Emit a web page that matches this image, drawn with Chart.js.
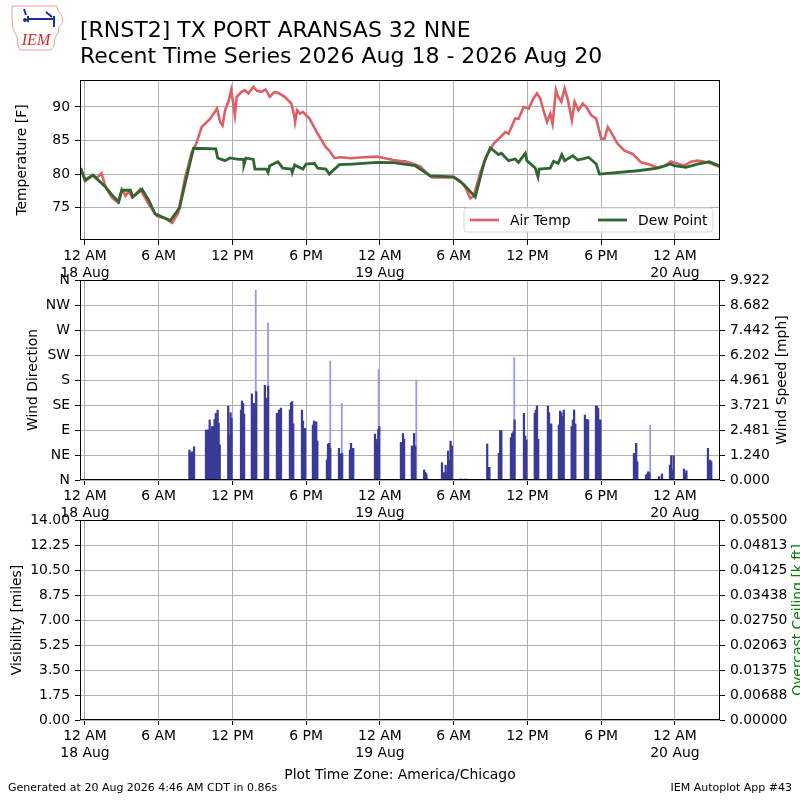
<!DOCTYPE html>
<html><head><meta charset="utf-8">
<script src="https://cdn.jsdelivr.net/npm/chart.js@4.4.1/dist/chart.umd.min.js"></script>
<style>
html,body{margin:0;padding:0;background:#fff;}
#wrap{position:relative;width:800px;height:800px;overflow:hidden;font-family:'DejaVu Sans',sans-serif;color:#000;background:#fff;}
canvas{position:absolute;left:0;top:0;}
.t{position:absolute;white-space:nowrap;}
</style></head><body>
<div id="wrap">
<canvas id="c1" width="800" height="800"></canvas>
<canvas id="c2" width="800" height="800"></canvas>
<canvas id="c3" width="800" height="800"></canvas>
<svg style="position:absolute;left:8px;top:3px" width="58" height="50" viewBox="0 0 58 50">
 <path d="M4 3 L49 3 L50 8 L54 13 L55 19 L51 24 L50 30 L47 35 L46 43 L43 47 L12 47 L10 42 L9 34 L5 26 L4 16 Z" fill="none" stroke="#eaa0a0" stroke-width="1"/>
 <g stroke="#1e2f9a" stroke-width="2" fill="none">
  <path d="M20 16 L46 16"/><path d="M20 13 L20 19"/><path d="M46 13 L46 24"/><path d="M38 9 L44 14"/><path d="M16 6 L18 12"/>
 </g>
 <circle cx="17" cy="17" r="2" fill="#1e2f9a"/>
 <text x="28" y="42" font-family="'Liberation Serif',serif" font-style="italic" font-size="16" fill="#d42828" text-anchor="middle">IEM</text>
</svg>
<div class="t" style="left:80px;top:17px;font-size:22px;line-height:26px;">[RNST2] TX PORT ARANSAS 32 NNE<br>Recent Time Series 2026 Aug 18 - 2026 Aug 20</div>
<div class="t" style="left:0;width:800px;text-align:center;top:766px;font-size:13.9px;line-height:17px;">Plot Time Zone: America/Chicago</div>
<div class="t" style="left:8px;top:781px;font-size:11px;line-height:13px;">Generated at 20 Aug 2026 4:46 AM CDT in 0.86s</div>
<div class="t" style="right:8px;top:781px;font-size:11px;line-height:13px;">IEM Autoplot App #43</div>
</div>
<script>
// ---------------- data ----------------
const xTickHours = [0, 6, 12, 18, 24, 30, 36, 42, 48];
const xTickLabels = [['12 AM', '18 Aug'], '6 AM', '12 PM', '6 PM', ['12 AM', '19 Aug'], '6 AM', '12 PM', '6 PM', ['12 AM', '20 Aug']];

const tempTicks = [75, 80, 85, 90];
const tempTickLabels = ['75', '80', '85', '90'];

const dirTicks = [0, 45, 90, 135, 180, 225, 270, 315, 360];
const dirTickLabels = ['N', 'NE', 'E', 'SE', 'S', 'SW', 'W', 'NW', 'N'];

const speedTicks = [0, 1.2403, 2.4806, 3.7209, 4.9612, 6.2015, 7.4418, 8.6821, 9.9224];
const speedTickLabels = ['0.000', '1.240', '2.481', '3.721', '4.961', '6.202', '7.442', '8.682', '9.922'];

const visTicks = [0, 1.75, 3.5, 5.25, 7, 8.75, 10.5, 12.25, 14];
const visTickLabels = ['0.00', '1.75', '3.50', '5.25', '7.00', '8.75', '10.50', '12.25', '14.00'];

const ceilTicks = [0, 0.006875, 0.01375, 0.020625, 0.0275, 0.034375, 0.04125, 0.048125, 0.055];
const ceilTickLabels = ['0.00000', '0.00688', '0.01375', '0.02063', '0.02750', '0.03438', '0.04125', '0.04813', '0.05500'];

// hours since 12 AM 18 Aug
const airHours = [-0.35, 0.05, 0.6, 1.0, 1.35, 1.7, 2.2, 2.7, 3.0, 3.3, 3.57, 3.85, 4.5, 5.2, 5.85, 6.55, 7.1, 7.6, 8.15, 8.7,
  9.05, 9.5, 10.2, 10.75, 11.0, 11.2, 11.4, 11.7, 11.9, 12.03, 12.2, 12.35, 12.75, 13.0, 13.3, 13.7, 14.0, 14.37, 14.7, 15.04,
  15.4, 15.7, 16.0, 16.25, 16.8, 17.05, 17.1, 17.27, 17.5, 17.73, 18.27, 18.94, 19.6, 19.88, 20.29, 20.83, 21.63, 22.7, 23.78, 24.3,
  25.1, 25.8, 26.07, 26.75, 27.3, 27.83, 28.24, 29.05, 30.0, 30.54, 30.95, 31.36, 31.63, 32.17, 32.7, 33.25, 33.66, 34.2, 34.47, 35.0,
  35.28, 35.7, 36.1, 36.5, 36.78, 37.05, 37.3, 37.6, 37.86, 38.05, 38.32, 38.5, 38.76, 39.03, 39.3, 39.62, 39.84, 40.16, 40.5, 40.78,
  41.2, 41.6, 42.0, 42.27, 42.54, 42.8, 43.35, 43.9, 44.57, 45.24, 45.8, 46.6, 47.14, 47.68, 48.2, 48.76, 49.3, 49.84, 50.4, 50.9, 51.6];
const airTemp = [80.9, 79.0, 79.75, 79.5, 80.1, 78.0, 76.5, 75.75, 77.75, 76.75, 77.5, 76.5, 77.75, 75.5, 73.75, 73.4, 72.75, 74.25, 79.5, 83.25,
  84.5, 87.0, 88.25, 89.75, 87.75, 87.25, 89.5, 90.9, 92.5, 91.0, 88.75, 91.5, 92.25, 92.5, 92.0, 93.0, 92.4, 92.25, 92.6, 91.5,
  92.2, 92.1, 91.8, 91.5, 90.5, 88.5, 87.75, 89.5, 89.0, 89.25, 88.25, 86.0, 84.0, 83.5, 82.4, 82.5, 82.35, 82.5, 82.6, 82.4,
  82.1, 81.9, 81.9, 81.5, 81.1, 80.1, 79.5, 79.5, 79.5, 79.0, 78.0, 76.4, 76.75, 80.25, 82.75, 84.5, 85.25, 86.25, 86.0, 88.25,
  88.25, 90.0, 89.75, 91.25, 92.0, 91.25, 89.5, 87.75, 89.0, 87.5, 92.5, 91.5, 90.75, 92.75, 91.0, 88.0, 90.75, 89.5, 90.5, 90.0,
  88.75, 88.25, 85.25, 85.25, 87.0, 86.25, 84.5, 83.5, 83.0, 81.75, 81.5, 81.0, 81.25, 81.9, 81.6, 81.25, 81.85, 82.0, 81.85, 81.6, 81.1];

const dewHours = [-0.35, 0.0, 0.65, 1.68, 2.2, 2.76, 3.0, 3.7, 3.9, 4.65, 5.2, 5.7, 6.95, 7.7, 8.2, 8.84, 10.65, 10.8, 11.4, 11.8,
  12.5, 12.9, 12.94, 13.1, 13.7, 13.83, 14.77, 14.9, 15.04, 15.7, 16.1, 16.8, 16.87, 17.06, 17.73, 18.0, 18.67, 18.94, 19.6, 19.88,
  20.7, 21.77, 23.78, 25.1, 25.53, 26.88, 28.1, 30.0, 30.8, 31.76, 32.52, 32.98, 33.66, 33.88, 34.47, 35.0, 35.28, 35.83, 35.96, 36.64,
  36.86, 36.96, 37.86, 38.13, 38.5, 38.8, 39.03, 39.7, 40.1, 40.5, 40.97, 41.6, 41.86, 44.97, 46.6, 47.68, 47.95, 48.9, 49.84, 50.8, 51.6];
const dewTemp = [80.9, 79.1, 79.85, 78.1, 76.9, 75.9, 77.6, 77.6, 76.6, 77.75, 76.1, 74.1, 73.1, 75.0, 79.0, 83.85, 83.75, 82.4, 82.0, 82.4,
  82.2, 82.2, 81.4, 82.4, 82.2, 80.75, 80.75, 80.25, 81.25, 81.85, 80.9, 80.75, 80.25, 81.35, 80.75, 81.5, 81.6, 80.9, 80.75, 80.0,
  81.4, 81.5, 81.75, 81.7, 81.6, 81.25, 79.75, 79.6, 78.5, 76.6, 82.0, 83.9, 82.9, 83.1, 82.0, 82.25, 81.75, 83.1, 82.0, 80.9,
  79.6, 80.75, 80.9, 81.9, 81.6, 82.9, 82.0, 82.75, 82.1, 82.25, 82.5, 81.5, 80.0, 80.5, 80.9, 81.5, 81.25, 81.0, 81.5, 81.85, 81.25];

const windHours = [8.50, 8.60, 8.70, 8.78, 8.88,
  9.85, 9.95, 10.05, 10.15, 10.25, 10.35, 10.45, 10.55, 10.65, 10.72, 10.80, 10.88, 10.97,
  11.66, 11.75, 11.85, 11.93, 12.70, 12.78, 12.87, 12.95, 13.58, 13.67, 13.76, 13.85, 13.94,
  14.64, 14.73, 14.82, 14.91, 15.62, 15.70, 15.79, 15.87, 15.95, 16.68, 16.77, 16.86, 16.95,
  17.66, 17.74, 17.83, 17.91, 18.55, 18.64, 18.73, 18.82, 18.91, 19.69, 19.78, 19.87, 19.96,
  20.67, 20.76, 20.84, 20.93, 21.56, 21.65, 21.74, 21.83, 23.60, 23.69, 23.78, 23.87, 23.95,
  25.71, 25.79, 25.88, 25.97, 26.60, 26.69, 26.78, 26.87, 27.60, 27.69, 27.78, 27.90,
  29.05, 29.15, 29.25, 29.35, 29.45, 29.55, 29.65, 29.75, 29.85, 30.60, 30.95,
  32.73, 32.82, 32.91, 33.68, 33.78, 33.88, 34.66, 34.76, 34.86, 34.96, 35.72, 35.82, 35.92,
  36.60, 36.69, 36.78, 36.88, 37.67, 37.76, 37.85, 37.94, 38.56, 38.66, 38.76, 38.86, 38.96,
  39.60, 39.70, 39.80, 39.90, 40.68, 40.76, 40.85, 40.94, 41.58, 41.67, 41.76, 41.85, 41.94,
  44.67, 44.76, 44.85, 44.94, 45.65, 45.74, 45.83, 45.92, 46.72, 46.82, 46.95,
  47.60, 47.70, 47.80, 47.90, 48.74, 48.84, 48.94, 50.69, 50.78, 50.87, 50.96];
const windSpeed = [1.49, 1.36, 1.40, 1.00, 1.65,
  2.48, 2.48, 2.48, 2.98, 2.48, 2.65, 2.65, 3.01, 3.31, 2.89, 3.47, 2.81, 1.74,
  3.67, 2.23, 3.34, 3.06, 3.47, 3.92, 3.80, 3.27, 4.27, 3.14, 3.80, 3.64, 4.38,
  4.70, 4.07, 3.47, 4.66, 3.31, 2.73, 3.47, 3.47, 3.57, 3.47, 3.84, 3.89, 2.79,
  3.47, 2.93, 2.15, 2.56, 2.73, 2.93, 2.65, 2.89, 1.93, 1.00, 1.79, 1.82, 1.57,
  1.57, 1.24, 1.29, 1.32, 1.49, 1.82, 1.57, 1.57, 2.28, 1.79, 2.02, 2.51, 2.65,
  1.87, 1.87, 2.31, 2.02, 1.69, 1.62, 2.31, 1.69, 0.50, 0.38, 0.30, 0.05,
  0.86, 0.36, 0.36, 0.74, 0.36, 1.44, 0.99, 1.93, 1.70, 0.05, 0.05,
  1.79, 0.63, 0.63, 1.32, 2.45, 2.45, 2.11, 2.31, 2.40, 2.98, 3.31, 2.18, 1.98,
  3.31, 3.47, 3.67, 2.02, 3.67, 3.34, 2.78, 2.78, 2.73, 3.42, 3.34, 3.14, 3.47,
  2.65, 2.98, 3.47, 2.78, 3.22, 1.79, 3.01, 2.98, 3.67, 3.67, 3.55, 2.98, 2.98,
  1.32, 1.16, 1.82, 0.91, 0.25, 0.30, 0.41, 0.36, 0.17, 0.03, 0.30,
  0.74, 1.21, 0.50, 1.21, 0.55, 0.33, 0.46, 1.57, 0.69, 0.99, 0.91];

const gustHours = [13.90, 14.90, 19.96, 20.90, 23.90, 26.96, 34.93, 45.99];
const gustSpeed = [9.42, 7.80, 5.90, 3.80, 5.50, 4.96, 6.08, 2.73];

// ---------------- drawing ----------------
Chart.defaults.font.family = "'DejaVu Sans', sans-serif";
Chart.defaults.font.size = 13.9;
Chart.defaults.color = '#000';
const FONT = { family: "'DejaVu Sans', sans-serif", size: 13.9 };
const X_MIN = -0.4, X_MAX = 51.67;
const GRID = '#b0b0b0';

function pts(xs, ys) { return xs.map((x, i) => ({ x: x, y: ys[i] })); }

function xScale() {
  return {
    type: 'linear', min: X_MIN, max: X_MAX, offset: false,
    afterBuildTicks(s) { s.ticks = xTickHours.map(v => ({ value: v })); },
    afterFit(s) { s.height = 40; },
    ticks: { autoSkip: false, maxRotation: 0, minRotation: 0, padding: 3, font: FONT, color: '#000',
      callback: (v, i) => xTickLabels[i] },
    grid: { color: GRID, lineWidth: 1, offset: false, drawTicks: true, tickLength: 5, tickColor: '#000' },
    border: { display: false }
  };
}
function yScale(pos, min, max, ticks, labels, ongrid) {
  return {
    type: 'linear', position: pos, min: min, max: max,
    afterBuildTicks(s) { s.ticks = ticks.map(v => ({ value: v })); },
    afterFit(s) { s.width = 80; },
    ticks: { padding: 5, font: FONT, color: '#000', autoSkip: false, callback: (v, i) => labels[i] },
    grid: { color: GRID, lineWidth: 1, drawOnChartArea: ongrid, drawTicks: true, tickLength: 5, tickColor: '#000' },
    border: { display: false }
  };
}

const framePlugin = {
  id: 'frame',
  afterDraw(chart) {
    const a = chart.chartArea, ctx = chart.ctx;
    ctx.save();
    ctx.strokeStyle = '#000'; ctx.lineWidth = 1;
    ctx.strokeRect(Math.round(a.left) + 0.5, Math.round(a.top) + 0.5, Math.round(a.right - a.left) - 1, Math.round(a.bottom - a.top) - 1);
    ctx.restore();
  }
};
const vTitlePlugin = {
  id: 'vtitles',
  afterDraw(chart, args, opts) {
    const ctx = chart.ctx;
    (opts.items || []).forEach(it => {
      ctx.save();
      ctx.translate(it.x, it.y);
      ctx.rotate(-Math.PI / 2);
      ctx.font = "13.9px 'DejaVu Sans', sans-serif";
      ctx.fillStyle = it.color || '#000';
      ctx.textAlign = 'center'; ctx.textBaseline = 'middle';
      ctx.fillText(it.text, 0, 0);
      ctx.restore();
    });
  }
};
const boxLegendPlugin = {
  id: 'boxlegend',
  afterDraw(chart, args, opts) {
    if (!opts.show) return;
    const a = chart.chartArea, ctx = chart.ctx;
    const x0 = a.right - 256, y0 = a.bottom - 32, w = 249, h = 24, r = 3;
    ctx.save();
    ctx.beginPath();
    ctx.moveTo(x0 + r, y0); ctx.lineTo(x0 + w - r, y0); ctx.quadraticCurveTo(x0 + w, y0, x0 + w, y0 + r);
    ctx.lineTo(x0 + w, y0 + h - r); ctx.quadraticCurveTo(x0 + w, y0 + h, x0 + w - r, y0 + h);
    ctx.lineTo(x0 + r, y0 + h); ctx.quadraticCurveTo(x0, y0 + h, x0, y0 + h - r);
    ctx.lineTo(x0, y0 + r); ctx.quadraticCurveTo(x0, y0, x0 + r, y0); ctx.closePath();
    ctx.fillStyle = 'rgba(255,255,255,0.85)'; ctx.fill();
    ctx.strokeStyle = '#d6d6d6'; ctx.lineWidth = 1; ctx.stroke();
    const cy = y0 + h / 2;
    const order = opts.order;
    const xs = [x0 + 6, x0 + 134];
    order.forEach((di, k) => {
      const ds = chart.data.datasets[di];
      ctx.strokeStyle = ds.borderColor; ctx.lineWidth = ds.borderWidth;
      ctx.beginPath(); ctx.moveTo(xs[k], cy); ctx.lineTo(xs[k] + 29, cy); ctx.stroke();
      ctx.fillStyle = '#000'; ctx.font = "13.9px 'DejaVu Sans', sans-serif";
      ctx.textAlign = 'left'; ctx.textBaseline = 'middle';
      ctx.fillText(ds.label, xs[k] + 40, cy + 1);
    });
    ctx.restore();
  }
};
Chart.register(framePlugin, vTitlePlugin, boxLegendPlugin);

const common = { responsive: false, animation: false, events: [] };

new Chart(document.getElementById('c1'), {
  type: 'line',
  data: { datasets: [
    { label: 'Air Temp', data: pts(airHours, airTemp), borderColor: '#dd6067', borderWidth: 2.6, pointRadius: 0, tension: 0, order: 2 },
    { label: 'Dew Point', data: pts(dewHours, dewTemp), borderColor: '#2e6630', borderWidth: 2.8, pointRadius: 0, tension: 0, order: 1 }
  ] },
  options: Object.assign({}, common, {
    layout: { padding: { top: 80, bottom: 520, left: 0, right: 80 } },
    scales: { x: xScale(), y: yScale('left', 70.2, 94.0, tempTicks, tempTickLabels, true) },
    plugins: { legend: { display: false }, tooltip: { enabled: false },
      vtitles: { items: [{ text: 'Temperature [F]', x: 22, y: 160 }] },
      boxlegend: { show: true, order: [0, 1] } }
  })
});

new Chart(document.getElementById('c2'), {
  type: 'bar',
  data: { datasets: [
    { label: 'Gust', data: pts(gustHours, gustSpeed), yAxisID: 'speed', backgroundColor: '#9a9af5', barThickness: 1.2, grouped: false, order: 2, borderWidth: 0 },
    { label: 'Wind Speed', data: pts(windHours, windSpeed), yAxisID: 'speed', backgroundColor: '#3a3a98', barThickness: 1.6, grouped: false, order: 1, borderWidth: 0 }
  ] },
  options: Object.assign({}, common, {
    layout: { padding: { top: 280, bottom: 280, left: 0, right: 0 } },
    scales: {
      x: xScale(),
      dir: yScale('left', 0, 360, dirTicks, dirTickLabels, true),
      speed: yScale('right', 0, 9.9224, speedTicks, speedTickLabels, false)
    },
    plugins: { legend: { display: false }, tooltip: { enabled: false },
      vtitles: { items: [{ text: 'Wind Direction', x: 33, y: 380 }, { text: 'Wind Speed [mph]', x: 782, y: 380 }] } }
  })
});

new Chart(document.getElementById('c3'), {
  type: 'line',
  data: { datasets: [
    { label: 'Visibility', data: [], yAxisID: 'vis', borderColor: '#000', pointRadius: 0 },
    { label: 'Overcast Ceiling', data: [], yAxisID: 'ceil', borderColor: 'green', pointRadius: 0 }
  ] },
  options: Object.assign({}, common, {
    layout: { padding: { top: 520, bottom: 40, left: 0, right: 0 } },
    scales: {
      x: xScale(),
      vis: yScale('left', 0, 14, visTicks, visTickLabels, true),
      ceil: yScale('right', 0, 0.055, ceilTicks, ceilTickLabels, false)
    },
    plugins: { legend: { display: false }, tooltip: { enabled: false },
      vtitles: { items: [{ text: 'Visibility [miles]', x: 17, y: 620 }, { text: 'Overcast Ceiling [k ft]', x: 798, y: 620, color: 'green' }] } }
  })
});
</script>
</body></html>
